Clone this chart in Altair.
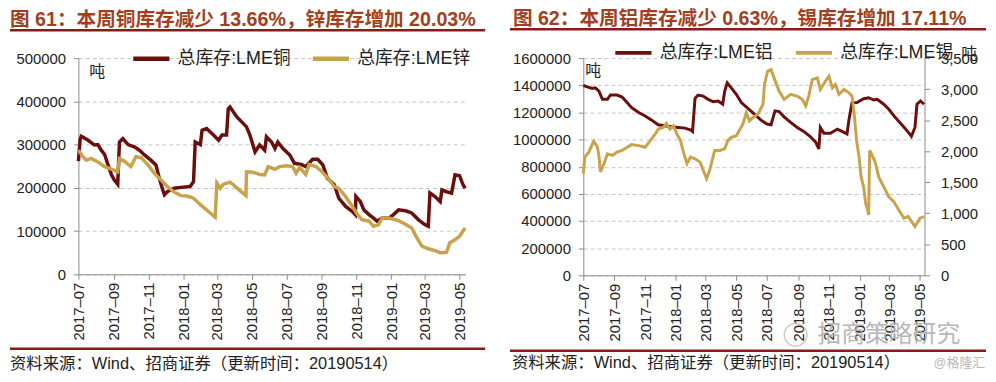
import altair as alt
import pandas as pd

FONT = "Liberation Sans, Noto Sans CJK SC, sans-serif"

# ---------------- data ----------------
CU_DATES = ["2017-07-01","2017-07-04","2017-07-06","2017-07-18","2017-07-29","2017-08-04","2017-08-10","2017-08-16","2017-08-22","2017-08-28","2017-09-02","2017-09-08","2017-09-11","2017-09-17","2017-09-26","2017-10-07","2017-10-16","2017-10-25","2017-11-05","2017-11-14","2017-11-20","2017-11-26","2017-11-29","2017-12-04","2017-12-16","2017-12-28","2018-01-13","2018-01-19","2018-01-22","2018-01-31","2018-02-03","2018-02-11","2018-02-23","2018-03-04","2018-03-10","2018-03-18","2018-03-21","2018-03-24","2018-04-05","2018-04-11","2018-04-22","2018-04-28","2018-05-07","2018-05-15","2018-05-24","2018-05-27","2018-06-05","2018-06-11","2018-06-16","2018-06-25","2018-07-07","2018-07-15","2018-07-27","2018-08-04","2018-08-16","2018-08-25","2018-09-03","2018-09-11","2018-09-23","2018-10-01","2018-10-13","2018-10-25","2018-10-30","2018-10-31","2018-11-08","2018-11-14","2018-11-23","2018-12-01","2018-12-07","2018-12-16","2018-12-28","2019-01-05","2019-01-14","2019-01-26","2019-02-06","2019-02-18","2019-03-01","2019-03-07","2019-03-10","2019-03-19","2019-03-28","2019-03-31","2019-04-08","2019-04-17","2019-04-23","2019-05-01","2019-05-07","2019-05-11"]
CU_VALUES = [262000,312000,319000,310000,299000,300000,287000,277000,253000,230000,218000,208000,306000,314000,300000,295000,287000,276000,264000,253000,222000,195000,184000,191000,199000,201000,203000,214000,306000,300000,333000,337000,322000,310000,322000,322000,383000,387000,364000,356000,341000,322000,283000,299000,287000,318000,306000,291000,306000,291000,276000,257000,254000,249000,266000,266000,253000,222000,207000,176000,157000,145000,138000,180000,168000,149000,138000,130000,123000,130000,130000,138000,149000,147000,142000,126000,115000,111000,188000,180000,168000,195000,191000,188000,230000,228000,207000,199000]

ZN_DATES = ["2017-07-01","2017-07-09","2017-07-15","2017-07-24","2017-08-04","2017-08-16","2017-08-28","2017-09-08","2017-09-11","2017-09-19","2017-10-01","2017-10-10","2017-10-19","2017-10-31","2017-11-11","2017-11-23","2017-12-04","2017-12-16","2017-12-28","2018-01-08","2018-01-19","2018-01-31","2018-02-11","2018-02-26","2018-03-01","2018-03-07","2018-03-12","2018-03-24","2018-03-30","2018-04-11","2018-04-21","2018-04-22","2018-05-04","2018-05-15","2018-05-24","2018-05-30","2018-06-11","2018-06-19","2018-07-01","2018-07-12","2018-07-18","2018-07-24","2018-08-04","2018-08-10","2018-08-22","2018-08-31","2018-09-11","2018-09-23","2018-10-01","2018-10-13","2018-10-25","2018-11-03","2018-11-11","2018-11-23","2018-12-01","2018-12-10","2018-12-16","2018-12-28","2019-01-14","2019-01-26","2019-02-06","2019-02-15","2019-02-24","2019-03-07","2019-03-19","2019-03-28","2019-04-08","2019-04-14","2019-04-23","2019-05-01","2019-05-07","2019-05-11"]
ZN_VALUES = [287000,272000,264000,268000,260000,249000,243000,237000,268000,262000,249000,272000,270000,253000,234000,218000,203000,190000,182000,181000,176000,161000,149000,132000,211000,199000,208000,213000,207000,193000,182000,237000,236000,231000,230000,249000,243000,249000,251000,249000,234000,247000,231000,254000,249000,239000,224000,203000,199000,180000,157000,138000,126000,123000,111000,115000,130000,130000,124000,116000,107000,84000,65000,59000,55000,50000,51000,73000,80000,88000,100000,107000]

AL_DATES = ["2017-07-01","2017-07-09","2017-07-19","2017-07-25","2017-08-01","2017-08-08","2017-08-18","2017-08-24","2017-09-06","2017-09-16","2017-09-26","2017-10-05","2017-10-19","2017-11-01","2017-11-14","2017-11-27","2017-12-10","2017-12-23","2018-01-06","2018-01-19","2018-01-31","2018-02-03","2018-02-08","2018-02-14","2018-02-24","2018-03-06","2018-03-16","2018-03-26","2018-04-04","2018-04-08","2018-04-13","2018-04-21","2018-05-01","2018-05-11","2018-05-24","2018-06-06","2018-06-19","2018-07-01","2018-07-09","2018-07-17","2018-07-25","2018-08-04","2018-08-17","2018-08-30","2018-09-12","2018-09-25","2018-10-06","2018-10-12","2018-10-15","2018-10-22","2018-11-04","2018-11-18","2018-12-01","2018-12-07","2018-12-11","2018-12-17","2018-12-27","2019-01-09","2019-01-19","2019-01-29","2019-02-05","2019-02-18","2019-02-28","2019-03-13","2019-03-26","2019-04-08","2019-04-14","2019-04-21","2019-04-25","2019-05-02","2019-05-09"]
AL_VALUES = [1398000,1388000,1376000,1381000,1357000,1296000,1296000,1328000,1328000,1313000,1272000,1235000,1199000,1174000,1143000,1109000,1102000,1094000,1089000,1084000,1070000,1060000,1303000,1328000,1320000,1296000,1279000,1284000,1260000,1357000,1418000,1381000,1333000,1272000,1230000,1187000,1143000,1114000,1109000,1211000,1206000,1167000,1126000,1089000,1060000,1021000,980000,931000,1089000,1046000,1046000,1077000,1053000,1041000,1150000,1272000,1272000,1301000,1308000,1291000,1296000,1260000,1223000,1162000,1109000,1053000,1024000,1089000,1260000,1284000,1260000]

SN_DATES = ["2017-07-01","2017-07-04","2017-07-12","2017-07-19","2017-07-22","2017-07-29","2017-08-01","2017-08-04","2017-08-11","2017-08-18","2017-08-28","2017-09-06","2017-09-16","2017-09-26","2017-10-05","2017-10-19","2017-11-01","2017-11-11","2017-11-21","2017-11-27","2017-12-07","2017-12-13","2017-12-20","2017-12-27","2018-01-03","2018-01-10","2018-01-17","2018-01-23","2018-01-30","2018-02-08","2018-02-18","2018-02-27","2018-03-03","2018-03-09","2018-03-19","2018-03-29","2018-04-08","2018-04-14","2018-04-21","2018-05-01","2018-05-14","2018-05-21","2018-05-27","2018-06-03","2018-06-13","2018-06-23","2018-06-26","2018-07-02","2018-07-09","2018-07-15","2018-07-25","2018-08-04","2018-08-17","2018-08-30","2018-09-09","2018-09-16","2018-09-22","2018-09-29","2018-10-09","2018-10-15","2018-10-25","2018-11-01","2018-11-08","2018-11-14","2018-11-21","2018-12-01","2018-12-11","2018-12-17","2018-12-22","2018-12-26","2018-12-31","2019-01-04","2019-01-09","2019-01-13","2019-01-17","2019-01-19","2019-01-21","2019-01-26","2019-02-01","2019-02-08","2019-02-18","2019-02-28","2019-03-10","2019-03-20","2019-03-30","2019-04-08","2019-04-14","2019-04-21","2019-04-25","2019-05-01","2019-05-09"]
SN_VALUES = [1638,1904,1984,2117,2160,2064,1931,1665,1798,1957,1931,1984,2011,2064,2106,2090,2064,2170,2277,2356,2383,2447,2356,2409,2277,2170,1957,1798,1904,1878,1824,1638,1558,1691,2011,2011,2037,2170,2223,2250,2436,2622,2489,2542,2596,2755,3074,3287,3314,3181,2968,2835,2915,2888,2835,2729,2888,3154,3181,2995,3127,3207,3021,3074,2915,2995,2941,2888,2542,2170,1904,1585,1426,1160,1053,973,2011,1931,1824,1585,1426,1266,1186,1053,920,947,867,787,840,920,947]

LEFT_NAMES = ["总库存:LME铜", "总库存:LME锌"]
RIGHT_NAMES = ["总库存:LME铝", "总库存:LME锡"]
X_TICKS = ["2017-07-01","2017-09-01","2017-11-01","2018-01-01","2018-03-01","2018-05-01",
           "2018-07-01","2018-09-01","2018-11-01","2019-01-01","2019-03-01","2019-05-01"]
LEFT_X_DOMAIN = ["2017-07-01", "2019-05-11"]
RIGHT_X_DOMAIN = ["2017-07-01", "2019-05-10"]
LEFT_Y_TICKS = [0, 100000, 200000, 300000, 400000, 500000]
RIGHT_Y_TICKS = [0, 200000, 400000, 600000, 800000, 1000000, 1200000, 1400000, 1600000]
RIGHT_Y2_TICKS = [0, 500, 1000, 1500, 2000, 2500, 3000, 3500]

TITLE_LEFT = "图 61：本周铜库存减少 13.66%，锌库存增加 20.03%"
TITLE_RIGHT = "图 62：本周铝库存减少 0.63%，锡库存增加 17.11%"
SOURCE = "资料来源：Wind、招商证券（更新时间：20190514）"
UNIT = "吨"
WATERMARK = "招商策略研究"
CREDIT = "@格隆汇"

DARK = "#6B0E0E"
GOLD = "#C9A24C"
TITLE_COLOR = "#A1401E"
RULE_COLOR = "#8A1A1A"


def dt(s):
    return alt.DateTime(year=int(s[:4]), month=int(s[5:7]), date=int(s[8:10]))


def series_df(dates, values, name):
    return pd.DataFrame({"date": dates, "value": values, "series": name})


def x_enc(domain):
    return alt.X(
        "date:T",
        scale=alt.Scale(domain=[dt(d) for d in domain]),
        axis=alt.Axis(values=[dt(d) for d in X_TICKS], format="%Y–%m", labelAngle=270,
                      title=None, grid=False, tickSize=5, labelPadding=3, labelFontSize=15,
                      labelColor="#222", domainColor="#8c8c8c", tickColor="#8c8c8c",
                      labelOverlap=False, labelFont=FONT),
    )


def y_axis(values, orient="left", grid=True, fmt="d", pad=8):
    return alt.Axis(values=values, orient=orient, format=fmt, title=None, grid=grid,
                    gridDash=[4, 3], gridColor="#c4c4c4", tickSize=5, labelPadding=pad,
                    labelFontSize=15, labelColor="#222", domainColor="#8c8c8c",
                    tickColor="#8c8c8c", labelFont=FONT)


def legend(x, y, sw, colpad):
    return alt.Legend(orient="none", legendX=x, legendY=y, direction="horizontal", title=None,
                      symbolType="stroke", symbolSize=1330, symbolStrokeWidth=sw,
                      labelFontSize=18, labelFont=FONT, labelColor="#222", labelOffset=6,
                      columnPadding=colpad, labelLimit=400, padding=0)


def text(t, x, y, size, color, weight="normal", font=FONT, opacity=1.0):
    return alt.Chart(pd.DataFrame({"t": [t]})).mark_text(
        align="left", baseline="middle", fontSize=size, color=color, fontWeight=weight,
        font=font, opacity=opacity
    ).encode(x=alt.value(x), y=alt.value(y), text="t:N")


def hrule(x1, x2, y, color, w):
    return alt.Chart(pd.DataFrame({"a": [0]})).mark_rule(color=color, strokeWidth=w).encode(
        x=alt.value(x1), x2=alt.value(x2), y=alt.value(y))


# ---------------- left panel ----------------
W_L, H_L = 390, 218
left_df = pd.concat([series_df(CU_DATES, CU_VALUES, LEFT_NAMES[0]),
                     series_df(ZN_DATES, ZN_VALUES, LEFT_NAMES[1])])
left_lines = alt.Chart(left_df).mark_line(strokeWidth=3.5).encode(
    x=x_enc(LEFT_X_DOMAIN),
    y=alt.Y("value:Q", scale=alt.Scale(domain=[0, 500000]), axis=y_axis(LEFT_Y_TICKS)),
    color=alt.Color("series:N", scale=alt.Scale(domain=LEFT_NAMES, range=[DARK, GOLD]),
                    legend=legend(53, -20, 4.5, 12)),
)
left = alt.layer(
    left_lines,
    text(UNIT, 11, 14, 16, "#222"),
    text(TITLE_LEFT, -69, -38, 19.8, TITLE_COLOR, "bold"),
    hrule(-69, 410, -28, RULE_COLOR, 2.5),
    hrule(-69, 410, 293, RULE_COLOR, 2.5),
    text(SOURCE, -69, 308, 16.5, "#222"),
).properties(width=W_L, height=H_L)

# ---------------- right panel ----------------
W_R, H_R = 344, 219
color_r = alt.Color("series:N", scale=alt.Scale(domain=RIGHT_NAMES, range=[DARK, GOLD]),
                    legend=legend(30, -26, 4, 14))
al_line = alt.Chart(series_df(AL_DATES, AL_VALUES, RIGHT_NAMES[0])).mark_line(strokeWidth=3).encode(
    x=x_enc(RIGHT_X_DOMAIN),
    y=alt.Y("value:Q", scale=alt.Scale(domain=[0, 1600000]), axis=y_axis(RIGHT_Y_TICKS)),
    color=color_r,
)
sn_line = alt.Chart(series_df(SN_DATES, SN_VALUES, RIGHT_NAMES[1])).mark_line(strokeWidth=3).encode(
    x=x_enc(RIGHT_X_DOMAIN),
    y=alt.Y("value:Q", scale=alt.Scale(domain=[0, 3500]),
            axis=y_axis(RIGHT_Y2_TICKS, orient="right", grid=False, fmt=",d", pad=11)),
    color=color_r,
)
icon = alt.Chart(pd.DataFrame({"a": [0]})).mark_point(
    shape="circle", filled=False, size=520, color="#b5b5b5", strokeWidth=1.5
).encode(x=alt.value(214), y=alt.value(279))

right = alt.layer(
    al_line, sn_line,
    text(UNIT, 2, 13, 16, "#222"),
    text(UNIT, 381, -4, 16, "#222"),
    text(TITLE_RIGHT, -71, -39, 19.8, TITLE_COLOR, "bold"),
    hrule(-74, 406, -29, RULE_COLOR, 2.5),
    hrule(-74, 406, 295, RULE_COLOR, 2.5),
    text(SOURCE, -72, 307, 16.5, "#222"),
    icon,
    text(WATERMARK, 236, 279, 24, "#b0b0b0", opacity=0.9),
    text(CREDIT, 353, 307, 13, "#b8b8b8"),
).resolve_scale(y="independent").properties(width=W_R, height=H_R)

chart = alt.hconcat(left, right, spacing=21).resolve_scale(
    color="independent"
).properties(padding=0).configure_view(stroke=None)

chart.save("out.html", embed_options={"renderer": "svg", "actions": False})
